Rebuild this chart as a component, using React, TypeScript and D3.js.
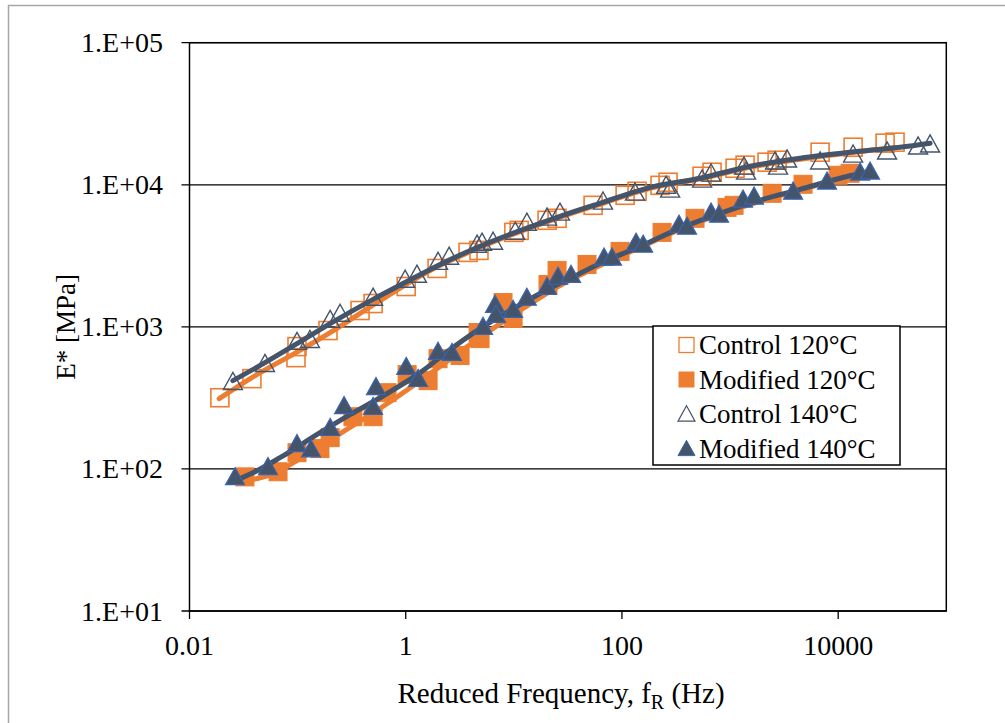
import React from "react";
import * as d3 from "d3";

// ---- data (frequency Hz, |E*| MPa) ----
const control120: [number, number][] = [
  [0.0191, 317], [0.0378, 432], [0.0966, 607], [0.0987, 726], [0.191, 942], [0.378, 1303],
  [0.499, 1459], [1.01, 1923], [1.95, 2577], [3.77, 3342], [4.76, 3451], [10.0, 4624],
  [11.2, 4775], [20.3, 5623], [25.1, 5807], [54.1, 7168], [107, 8433], [138, 8995],
  [225, 9908], [267, 10420], [551, 11480], [682, 12250], [1112, 13070], [1377, 13740],
  [2199, 14420], [2722, 14890], [6803, 16950], [13740, 18380], [27160, 19630], [33570, 19950],
];
const modified120: [number, number][] = [
  [0.0326, 87.9], [0.0659, 95.5], [0.0987, 130], [0.161, 139], [0.2, 166], [0.325, 233],
  [0.499, 233], [0.671, 344], [1.03, 461], [1.61, 418], [1.99, 597], [3.18, 628],
  [4.67, 912], [4.87, 826], [7.94, 1483], [9.84, 1145], [20.7, 1987], [25.1, 2495],
  [47.5, 2750], [96, 3396], [235, 4624], [474, 5807], [938, 6934], [1089, 7168],
  [2449, 8710], [4732, 10080], [9977, 11670], [12880, 12050],
];
const control140: [number, number][] = [
  [0.0252, 405], [0.0499, 542], [0.0987, 775], [0.13, 800], [0.2, 1107], [0.247, 1222],
  [0.499, 1585], [0.987, 2122], [1.27, 2300], [1.99, 2838], [2.52, 3083], [4.57, 3743],
  [5.08, 3867], [6.42, 3933], [10.3, 4624], [13.2, 5351], [20.3, 5807], [26.7, 6295],
  [66.8, 7530], [132, 8710], [256, 9750], [279, 9141], [551, 10760], [667, 11860],
  [1346, 13280], [1406, 12250], [2606, 14420], [2780, 13280], [3365, 14890], [6803, 14420],
  [13740, 16140], [28310, 16950], [54830, 18380], [70790, 18990],
];
const modified140: [number, number][] = [
  [0.0264, 86.5], [0.0532, 102], [0.0987, 148], [0.133, 136], [0.2, 192], [0.269, 274],
  [0.499, 270], [0.531, 373], [1.01, 516], [1.3, 425], [1.99, 659], [2.68, 648],
  [5.19, 989], [6.7, 1413], [6.84, 1202], [9.84, 1303], [13.2, 1585], [20.3, 1893],
  [25.6, 2228], [33.8, 2300], [68.3, 3034], [80.9, 3034], [135, 3867], [157, 3743],
  [337, 5176], [400, 5012], [667, 6295], [791, 6095], [1318, 7780], [1667, 8166],
  [3828, 8851], [7889, 10420], [15960, 12050], [19720, 12250],
];

// fitted master curves
const fitControl120: [number, number][] = [
  [0.0188, 312], [0.0378, 439], [0.0966, 659], [0.2, 912], [0.578, 1531], [1.68, 2495],
  [4.87, 3622], [10.3, 4550], [26.7, 5902], [66.8, 7413], [182, 9441], [527, 11020],
  [1531, 13280], [4446, 15130], [12880, 16830], [33570, 18240],
];
const fitControl140: [number, number][] = [
  [0.0252, 418], [0.0499, 560], [0.0987, 762], [0.2, 1054], [0.499, 1560], [0.987, 2051],
  [1.99, 2704], [4.57, 3622], [10.3, 4624], [26.7, 5998], [66.8, 7530], [182, 9596],
  [527, 11120], [1531, 13490], [4446, 15380], [12880, 16950], [37410, 18380], [70790, 19630],
];
const fitModified120: [number, number][] = [
  [0.0326, 82.4], [0.0556, 90.8], [0.105, 118], [0.247, 177], [0.716, 297], [1.68, 469],
  [4.87, 841], [11.4, 1303], [26.7, 1954], [62.7, 2704], [147, 3622], [344, 4853],
  [807, 6194], [1892, 7656], [4446, 9141], [12880, 11770],
];
const fitModified140: [number, number][] = [
  [0.0264, 82.4], [0.0421, 97], [0.0687, 120], [0.161, 180], [0.305, 241], [0.578, 317],
  [1.36, 476], [2.57, 692], [4.87, 973], [9.23, 1303], [17.5, 1718], [33.1, 2193],
  [62.7, 2793], [147, 3681], [344, 4932], [807, 6295], [1892, 7780], [4446, 9290],
  [10420, 11120], [19720, 12450],
];

const xTicks = [0.01, 1, 100, 10000];
const xTickLabels = ["0.01", "1", "100", "10000"];
const yTicks = [10, 100, 1000, 10000, 100000];
const yTickLabels = ["1.E+01", "1.E+02", "1.E+03", "1.E+04", "1.E+05"];
const legendLabels = ["Control 120°C", "Modified 120°C", "Control 140°C", "Modified 140°C"];

const ORANGE = "#ED7D31";
const SLATE = "#44546A";
const BLUE_EDGE = "#3B64AD";
const FONT = "Liberation Serif";

const tri = (s: number) => {
  const h = s * 0.9;
  return `M0,${-h * 0.6}L${s / 2},${h * 0.4}L${-s / 2},${h * 0.4}Z`;
};

export default function App() {
  const W = 1005, H = 723;
  const left = 189.5, right = 946.3, top = 42.7, bottom = 611;
  const x = d3.scaleLog().domain([0.01, 1e5]).range([left, right]);
  const y = d3.scaleLog().domain([10, 1e5]).range([bottom, top]);
  const line = d3
    .line<[number, number]>()
    .x((d) => x(d[0]))
    .y((d) => y(d[1]))
    .curve(d3.curveMonotoneX);

  const sq = 18;
  const tr = 19;
  const ts = { fontFamily: FONT };

  return (
    <svg width={W} height={H} style={{ position: "absolute", left: 0, top: 0, background: "#fff", fontFamily: FONT }}>
      <rect x={0} y={0} width={W} height={H} fill="#fff" />
      <rect x={8.5} y={5.5} width={1100} height={800} fill="none" stroke="#a6a6a6" strokeWidth={1.5} />
      {/* gridlines */}
      {yTicks.map((t) => (
        <line key={"g" + t} x1={left - 8} x2={right} y1={y(t)} y2={y(t)} stroke="#000" strokeWidth={1.3} />
      ))}
      {/* plot box */}
      <rect x={left} y={top} width={right - left} height={bottom - top} fill="none" stroke="#000" strokeWidth={1.5} />
      {/* x ticks */}
      {xTicks.map((t, i) => (
        <g key={"x" + t}>
          <line x1={x(t)} x2={x(t)} y1={bottom} y2={bottom + 8} stroke="#000" strokeWidth={1.3} />
          <text x={x(t)} y={655} textAnchor="middle" style={ts} fontSize={28} fill="#000">
            {xTickLabels[i]}
          </text>
        </g>
      ))}
      {yTicks.map((t, i) => (
        <text key={"yl" + t} x={163} y={y(t) + 9.5} textAnchor="end" style={ts} fontSize={28} fill="#000">
          {yTickLabels[i]}
        </text>
      ))}
      {/* axis titles */}
      <text x={561} y={703} textAnchor="middle" style={ts} fontSize={29} fill="#000">
        Reduced Frequency, f<tspan fontSize={20} dy={6}>R</tspan>
        <tspan dy={-6}> (Hz)</tspan>
      </text>
      <text
        transform={`translate(75,${y(1000)}) rotate(-90)`}
        textAnchor="middle"
        style={ts}
        fontSize={27}
        fill="#000"
      >
        E* [MPa]
      </text>

      {/* markers: orange series */}
      {control120.map((d, i) => (
        <rect key={"c120" + i} x={x(d[0]) - sq / 2} y={y(d[1]) - sq / 2} width={sq} height={sq}
          fill="none" stroke={ORANGE} strokeWidth={1.6} />
      ))}
      {modified120.map((d, i) => (
        <rect key={"m120" + i} x={x(d[0]) - sq / 2} y={y(d[1]) - sq / 2} width={sq} height={sq}
          fill={ORANGE} stroke={ORANGE} strokeWidth={1} />
      ))}
      {/* fit lines */}
      <path d={line(fitControl120) || ""} fill="none" stroke={ORANGE} strokeWidth={5} strokeLinecap="round" />
      <path d={line(fitModified120) || ""} fill="none" stroke={ORANGE} strokeWidth={5} strokeLinecap="round" />
      <path d={line(fitControl140) || ""} fill="none" stroke={SLATE} strokeWidth={5} strokeLinecap="round" />
      <path d={line(fitModified140) || ""} fill="none" stroke={SLATE} strokeWidth={5} strokeLinecap="round" />
      {/* triangle series */}
      {control140.map((d, i) => (
        <path key={"c140" + i} d={tri(tr)} transform={`translate(${x(d[0])},${y(d[1])})`}
          fill="none" stroke={SLATE} strokeWidth={1.4} />
      ))}
      {modified140.map((d, i) => (
        <path key={"m140" + i} d={tri(tr)} transform={`translate(${x(d[0])},${y(d[1])})`}
          fill={SLATE} stroke={BLUE_EDGE} strokeWidth={1.2} />
      ))}

      {/* legend */}
      <g>
        <rect x={653} y={326} width={247} height={139} fill="#fff" stroke="#000" strokeWidth={1.5} />
        {legendLabels.map((lab, i) => {
          const cy = 345 + i * 34.5;
          const mx = 686.5;
          let marker;
          if (i === 0)
            marker = <rect x={mx - 7.5} y={cy - 7.5} width={15} height={15} fill="#fff" stroke={ORANGE} strokeWidth={1.3} />;
          else if (i === 1)
            marker = <rect x={mx - 8} y={cy - 8} width={16} height={16} fill={ORANGE} />;
          else if (i === 2)
            marker = <path d={tri(17)} transform={`translate(${mx},${cy + 1})`} fill="#fff" stroke={SLATE} strokeWidth={1.2} />;
          else
            marker = <path d={tri(17)} transform={`translate(${mx},${cy + 1})`} fill={SLATE} stroke={BLUE_EDGE} strokeWidth={1} />;
          return (
            <g key={lab}>
              {marker}
              <text x={699} y={cy + 9} style={ts} fontSize={27} fill="#000">{lab}</text>
            </g>
          );
        })}
      </g>
    </svg>
  );
}
